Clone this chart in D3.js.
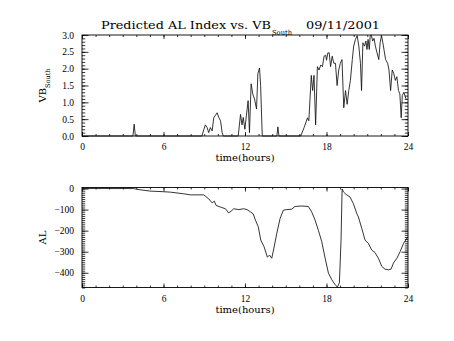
<!DOCTYPE html>
<html>
<head>
<meta charset="utf-8">
<script src="https://cdn.jsdelivr.net/npm/d3@7"></script>
<style>
  html, body { margin: 0; padding: 0; background: #fff; }
  svg { display: block; }
  .tick text { font-family: "Liberation Serif", "DejaVu Serif", serif; font-size: 9.5px; fill: #000; }
  .tick line { stroke: #000; stroke-width: 0.8; }
</style>
</head>
<body>
<svg id="chart" width="454" height="341"></svg>
<script>
// Southward IMF component (VB_South), hours since 00 UT
const vbHours = [0, 3.75, 3.84, 3.93, 8.83, 8.96, 9.08, 9.21, 9.33, 9.45, 9.58, 9.7, 9.83, 9.95, 10.07, 10.2, 10.32, 10.4,
  11.5, 11.67, 11.78, 11.87, 11.99, 12.1, 12.23, 12.33, 12.45, 12.57, 12.7, 12.85, 12.95, 13.07, 13.15, 13.27,
  14.35, 14.42, 14.5, 16.1, 16.35, 16.6, 16.7, 16.88, 16.98, 17.08, 17.2, 17.33, 17.45, 17.58, 17.7, 17.82, 17.94, 18.0,
  18.1, 18.2, 18.3, 18.42, 18.54, 18.66, 18.78, 18.9, 19.02, 19.14, 19.27, 19.4, 19.52, 19.64, 19.76, 19.9, 20.0,
  20.13, 20.26, 20.38, 20.5, 20.58, 20.68, 20.8, 20.9, 20.98, 21.06, 21.15, 21.22, 21.3, 21.4, 21.5, 21.6, 21.72,
  21.85, 21.95, 22.05, 22.15, 22.35, 22.5, 22.6, 22.72, 22.84, 22.95, 23.07, 23.18, 23.3, 23.4, 23.5, 23.58, 23.7, 23.85];
const vbValues = [0, 0, 0.35, 0, 0, 0.18, 0.33, 0.25, 0.1, 0.25, 0.15, 0.54, 0.62, 0.69, 0.55, 0.45, 0.1, 0,
  0, 0.64, 0.33, 0.55, 0.2, 0.6, 1.05, 0.1, 1.55, 1.25, 1.1, 0.8, 1.86, 2.02, 1.5, 0,
  0, 0.27, 0, 0, 0.25, 0.54, 0.45, 1.8, 1.35, 1.8, 0.33, 2.06, 1.96, 2.11, 2.06, 2.37, 2.4, 2.25,
  2.47, 2.47, 2.06, 2.37, 2.16, 2.16, 1.5, 1.96, 2.16, 2.27, 0.84, 1.35, 0.94, 1.35, 1.65, 2.27, 2.67,
  2.87, 2.98, 2.67, 2.16, 1.35, 2.77, 2.67, 2.82, 2.57, 2.87, 2.57, 2.98, 3.0, 2.82, 2.9, 2.67, 2.47,
  2.27, 2.77, 2.98, 2.77, 2.27, 2.16, 1.96, 1.35, 1.96, 1.86, 1.65, 1.76, 1.35, 1.25, 0.54, 1.2, 1.3, 1.1];

// Predicted AL index (nT)
const alHours = [0, 3.77, 4.2, 5.0, 6.0, 6.5, 7.5, 7.98, 8.96, 9.33, 9.58, 9.75, 9.87, 10.19, 10.56, 10.8, 10.98,
  11.17, 11.54, 11.9, 12.15, 12.4, 12.6, 12.77, 12.98, 13.16, 13.4, 13.65, 13.8, 13.97, 14.1, 14.34, 14.58, 14.82,
  15.07, 15.44, 15.68, 16.17, 16.66, 16.91, 17.16, 17.4, 17.65, 17.9, 18.14, 18.39, 18.63, 18.8, 18.95, 19.07,
  19.15, 19.25, 19.44, 19.73, 19.98, 20.23, 20.35, 20.6, 20.84, 21.08, 21.33, 21.57, 21.82, 22.07, 22.31, 22.56,
  22.75, 22.93, 23.18, 23.42, 23.67, 24];
const alValues = [0, 0, -5, -12, -15, -17, -25, -30, -30, -49, -68, -60, -80, -88, -96, -116, -107,
  -96, -100, -96, -100, -111, -120, -150, -182, -245, -276, -326, -316, -331, -292, -213, -143, -103,
  -100, -98, -85, -83, -85, -111, -150, -198, -252, -331, -401, -433, -456, -468, -448, -245,
  -2, -16, -28, -40, -72, -119, -135, -190, -245, -260, -292, -304, -331, -370, -383, -386,
  -383, -354, -331, -300, -260, -229];

// Axis tick values and labels
const hourTicks = [0, 6, 12, 18, 24];
const hourMinorTicks = d3.range(0, 25, 1);
const vbTicks = [0, 0.5, 1.0, 1.5, 2.0, 2.5, 3.0];
const vbMinorTicks = d3.range(0, 31, 1).map(d => d / 10);
const alTicks = [0, -100, -200, -300, -400];
const alMinorTicks = d3.range(-470, 1, 10);

const titleMain = "Predicted AL Index vs. VB";
const titleSub = "South";
const titleDate = "09/11/2001";
const xTitle = "time(hours)";

const svg = d3.select("#chart");
const left = 82, right = 408;
const x = d3.scaleLinear().domain([0, 24]).range([left, right]);

function panel(top, bottom, y, majors, minors, fmt, hours, values) {
  const g = svg.append("g");
  const axes = [
    [d3.axisBottom(x).tickValues(hourTicks).tickSize(-4).tickPadding(7.5).tickFormat(d3.format("d")), `translate(0,${bottom})`],
    [d3.axisBottom(x).tickValues(hourMinorTicks).tickSize(-2).tickFormat(""), `translate(0,${bottom})`],
    [d3.axisTop(x).tickValues(hourTicks).tickSize(-4).tickFormat(""), `translate(0,${top})`],
    [d3.axisTop(x).tickValues(hourMinorTicks).tickSize(-2).tickFormat(""), `translate(0,${top})`],
    [d3.axisLeft(y).tickValues(majors).tickSize(-6.5).tickPadding(8).tickFormat(fmt), `translate(${left},0)`],
    [d3.axisLeft(y).tickValues(minors).tickSize(-3.2).tickFormat(""), `translate(${left},0)`],
    [d3.axisRight(y).tickValues(majors).tickSize(-6.5).tickFormat(""), `translate(${right},0)`],
    [d3.axisRight(y).tickValues(minors).tickSize(-3.2).tickFormat(""), `translate(${right},0)`]
  ];
  axes.forEach(([ax, tr]) => {
    const a = g.append("g").attr("transform", tr).call(ax.tickSizeOuter(0));
    a.select(".domain").remove();
  });
  g.append("rect")
    .attr("x", left).attr("y", top)
    .attr("width", right - left).attr("height", bottom - top)
    .attr("fill", "none").attr("stroke", "#000").attr("stroke-width", 0.9);

  const line = d3.line().x((d, i) => x(hours[i])).y(d => y(d));
  g.append("path")
    .datum(values)
    .attr("d", line)
    .attr("fill", "none")
    .attr("stroke", "#111")
    .attr("stroke-width", 0.85)
    .attr("stroke-linejoin", "round");

  g.append("text")
    .attr("x", (left + right) / 2).attr("y", bottom + 25)
    .attr("text-anchor", "middle")
    .style("font-family", "DejaVu Serif, serif").style("font-size", "10px")
    .text(xTitle);
  return g;
}

// Upper panel: VB_South
const yTop = d3.scaleLinear().domain([0, 3.0]).range([136, 35]);
panel(35, 136, yTop, vbTicks, vbMinorTicks, d3.format(".1f"), vbHours, vbValues);

// Lower panel: AL
const yBot = d3.scaleLinear().domain([-470, 5]).range([287.5, 187.5]);
panel(187.5, 287.5, yBot, alTicks, alMinorTicks, d => d === 0 ? "0" : "\u2212" + Math.abs(d), alHours, alValues);

// Title
const title = svg.append("g").style("font-family", "DejaVu Serif, serif");
title.append("text").attr("x", 101).attr("y", 29).style("font-size", "11.5px")
  .attr("textLength", 170).attr("lengthAdjust", "spacingAndGlyphs").text(titleMain);
title.append("text").attr("x", 272).attr("y", 34.5).style("font-size", "7px")
  .attr("textLength", 20).attr("lengthAdjust", "spacingAndGlyphs").text(titleSub);
title.append("text").attr("x", 306).attr("y", 29).style("font-size", "11.5px")
  .attr("textLength", 74).attr("lengthAdjust", "spacingAndGlyphs").text(titleDate);

// Y titles
const yt1 = svg.append("text")
  .attr("transform", `translate(46,85.5) rotate(-90)`)
  .attr("text-anchor", "middle")
  .style("font-family", "DejaVu Serif, serif").style("font-size", "10px");
yt1.append("tspan").text("VB");
yt1.append("tspan").attr("dy", 4).style("font-size", "6.5px").text("South");

svg.append("text")
  .attr("transform", `translate(46,237.5) rotate(-90)`)
  .attr("text-anchor", "middle")
  .style("font-family", "DejaVu Serif, serif").style("font-size", "10px")
  .text("AL");
</script>
</body>
</html>
